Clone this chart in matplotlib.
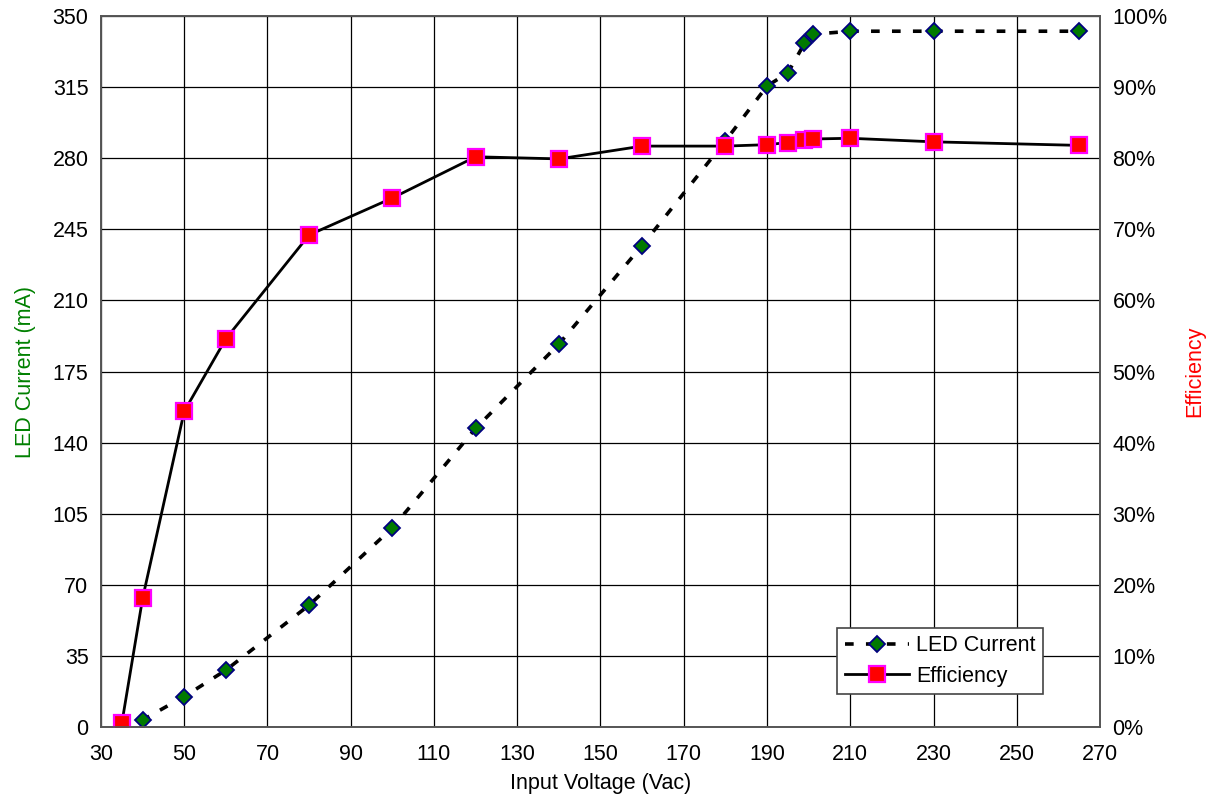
import matplotlib.pyplot as plt
from matplotlib.ticker import FuncFormatter

plt.rcParams['font.family'] = ['Liberation Sans', 'DejaVu Sans']

# input voltage (Vac)
vin = [35, 40, 50, 60, 80, 100, 120, 140, 160, 180, 190, 195, 199, 201, 210, 230, 265]
# LED current (mA)
led_current = [0, 3.5, 15, 28, 60, 98, 147, 188.5, 237, 288.5, 315.5, 322, 336.5, 341, 342.5, 342.5, 342.5]
# efficiency (fraction)
efficiency = [0.005, 0.181, 0.444, 0.546, 0.692, 0.744, 0.802, 0.799, 0.817, 0.817,
              0.819, 0.822, 0.826, 0.827, 0.828, 0.823, 0.818]

x_ticks = list(range(30, 271, 20))
y_ticks = list(range(0, 351, 35))
eff_ticks = [i / 10 for i in range(11)]

fs = 15.5

fig = plt.figure(figsize=(12.08, 7.95), dpi=100)
ax = fig.add_axes([0.0836, 0.0855, 0.827, 0.8944])
ax2 = ax.twinx()

# LED current on left axis
l1, = ax.plot(vin, led_current, color='black', linewidth=2.6, dashes=(2.4, 3.4),
              marker='D', markersize=8, markerfacecolor='#007a00',
              markeredgecolor='#000080', markeredgewidth=1.3, label='LED Current')

# efficiency on right axis
l2, = ax2.plot(vin, efficiency, color='black', linewidth=2.0,
               marker='s', markersize=11, markerfacecolor='#ff0000',
               markeredgecolor='#ff00ff', markeredgewidth=1.6, label='Efficiency')

ax.set_xlim(30, 270)
ax.set_ylim(0, 350)
ax2.set_ylim(0, 1)
ax.set_xticks(x_ticks)
ax.set_yticks(y_ticks)
ax2.set_yticks(eff_ticks)
ax2.yaxis.set_major_formatter(FuncFormatter(lambda v, p: '%d%%' % round(v * 100)))

ax.grid(True, color='black', linewidth=0.9)
ax.set_axisbelow(True)
for a in (ax, ax2):
    a.tick_params(length=0, labelsize=fs, pad=9)
    for s in a.spines.values():
        s.set_color('#555555')
        s.set_linewidth(1.2)
ax.tick_params(axis='x', pad=12)

ax.set_xlabel('Input Voltage (Vac)', fontsize=fs, labelpad=6)
ax.set_ylabel('LED Current (mA)', fontsize=fs, color='#008000', labelpad=12)
ax2.set_ylabel('Efficiency', fontsize=fs, color='#ff0000', labelpad=12)

leg = ax2.legend(handles=[l1, l2], loc='lower left', bbox_to_anchor=(0.737, 0.046),
                 fontsize=fs, frameon=True, fancybox=False, framealpha=1,
                 edgecolor='#444444', handlelength=3.0, borderpad=0.35,
                 labelspacing=0.45, handletextpad=0.3, borderaxespad=0)
leg.get_frame().set_linewidth(1.2)

fig.savefig('out.png', dpi=100)
